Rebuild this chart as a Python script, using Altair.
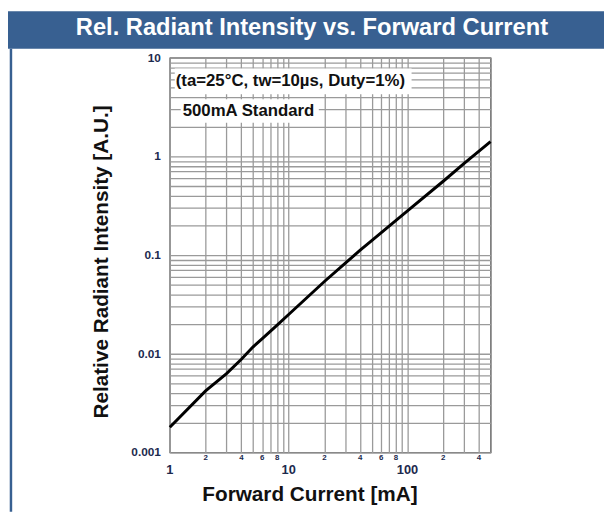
import altair as alt
import pandas as pd

# ---- data ----
current_ma = [1, 2, 3, 4, 5, 6, 8, 10, 20, 30, 40, 50, 100, 200, 300, 500]
rel_intensity = [0.0018, 0.0042, 0.0063, 0.0088, 0.0117, 0.0142, 0.0195, 0.025,
                 0.054, 0.083, 0.112, 0.14, 0.28, 0.56, 0.85, 1.41]

x_grid = [1, 2, 3, 4, 5, 6, 7, 8, 9, 10, 20, 30, 40, 50, 60, 70, 80, 90,
          100, 200, 300, 400, 500]
y_grid = [0.001, 0.002, 0.003, 0.004, 0.005, 0.006, 0.007, 0.008, 0.009,
          0.01, 0.02, 0.03, 0.04, 0.05, 0.06, 0.07, 0.08, 0.09,
          0.1, 0.2, 0.3, 0.4, 0.5, 0.6, 0.7, 0.8, 0.9,
          1, 2, 3, 4, 5, 6, 7, 8, 9, 10]

x_major_vals = [1, 10, 100]
x_major_labels = ["1", "10", "100"]
x_minor_vals = [2, 4, 6, 8, 20, 40, 60, 80, 200, 400]
x_minor_labels = ["2", "4", "6", "8", "2", "4", "6", "8", "2", "4"]
y_tick_vals = [0.001, 0.01, 0.1, 1, 10]
y_tick_labels = ["0.001", "0.01", "0.1", "1", "10"]

title_text = "Rel. Radiant Intensity vs. Forward Current"
x_title = "Forward Current [mA]"
y_title = "Relative Radiant Intensity [A.U.]"
note1 = "(ta=25°C, tw=10µs, Duty=1%)"
note2 = "500mA Standard"

# ---- styling ----
FONT = "Liberation Sans"
BLUE = "#386091"
NAVY = "#1c2a4e"
GRID = "#9a9a9a"
PL = 164  # left padding

xscale = alt.Scale(type="log", domain=[1, 500], nice=False)
yscale = alt.Scale(type="log", domain=[0.001, 10], nice=False)
xaxis = alt.Axis(values=x_grid, grid=True, labels=False, ticks=False,
                 domain=False, title=None, gridColor=GRID, gridWidth=1.3,
                 gridOpacity=1)
yaxis = alt.Axis(values=y_grid, grid=True, labels=False, ticks=False,
                 domain=False, title=None, gridColor=GRID, gridWidth=1.3,
                 gridOpacity=1)


def X(field):
    return alt.X(field, type="quantitative", scale=xscale, axis=xaxis)


def Y(field):
    return alt.Y(field, type="quantitative", scale=yscale, axis=yaxis)


one = pd.DataFrame({"d": [0]})

curve_df = pd.DataFrame({"I": current_ma, "R": rel_intensity})
curve = alt.Chart(curve_df).mark_line(
    color="black", strokeWidth=3, interpolate="linear"
).encode(x=X("I"), y=Y("R"))

banner = alt.Chart(one).mark_rect(color=BLUE).encode(
    x=alt.value(-PL), x2=alt.value(450), y=alt.value(-47), y2=alt.value(-9))
banner_text = alt.Chart(one).mark_text(
    text=title_text, font=FONT, fontSize=24, fontWeight="bold",
    color="white", align="center", baseline="middle"
).encode(x=alt.value(144), y=alt.value(-30))
left_rule = alt.Chart(one).mark_rule(color=BLUE, strokeWidth=2.5).encode(
    x=alt.value(-161), y=alt.value(-9), y2=alt.value(460))

box1 = alt.Chart(one).mark_rect(color="white").encode(
    x=alt.value(5), x2=alt.value(245), y=alt.value(11), y2=alt.value(37))
box2 = alt.Chart(one).mark_rect(color="white").encode(
    x=alt.value(11), x2=alt.value(151), y=alt.value(42), y2=alt.value(66))
t1 = alt.Chart(one).mark_text(
    text=note1, font=FONT, fontSize=17, fontWeight="bold", color="#111",
    align="left", baseline="middle").encode(x=alt.value(6), y=alt.value(24))
t2 = alt.Chart(one).mark_text(
    text=note2, font=FONT, fontSize=17, fontWeight="bold", color="#111",
    align="left", baseline="middle").encode(x=alt.value(13), y=alt.value(54))

major_df = pd.DataFrame({"v": x_major_vals, "t": x_major_labels})
major = alt.Chart(major_df).mark_text(
    font=FONT, fontSize=13, fontWeight="bold", color=NAVY,
    align="center", baseline="middle"
).encode(x=X("v"), y=alt.value(418), text="t:N")

minor_df = pd.DataFrame({"v": x_minor_vals, "t": x_minor_labels})
minor = alt.Chart(minor_df).mark_text(
    font=FONT, fontSize=8, fontWeight="bold", color=NAVY,
    align="center", baseline="middle"
).encode(x=X("v"), y=alt.value(406), text="t:N")

ylab_df = pd.DataFrame({"v": y_tick_vals, "t": y_tick_labels})
ylabs = alt.Chart(ylab_df).mark_text(
    font=FONT, fontSize=12, fontWeight="bold", color=NAVY,
    align="right", baseline="middle"
).encode(y=Y("v"), x=alt.value(-9), text="t:N")

xt = alt.Chart(one).mark_text(
    text=x_title, font=FONT, fontSize=21, fontWeight="bold", color="#111",
    align="center", baseline="middle").encode(x=alt.value(142), y=alt.value(443))
yt = alt.Chart(one).mark_text(
    text=y_title, font=FONT, fontSize=21, fontWeight="bold", color="#111",
    align="center", baseline="middle", angle=270
).encode(x=alt.value(-69), y=alt.value(207))

chart = alt.layer(
    banner, banner_text, left_rule, curve, box1, box2, t1, t2,
    major, minor, ylabs, xt, yt
).properties(
    width=325, height=400,
    autosize=alt.AutoSizeParams(type="none"),
    padding={"left": PL, "top": 47, "right": 115, "bottom": 58},
).configure_view(stroke="#222", strokeWidth=1.2)

chart.save("out.html", embed_options={"renderer": "svg", "actions": False})
